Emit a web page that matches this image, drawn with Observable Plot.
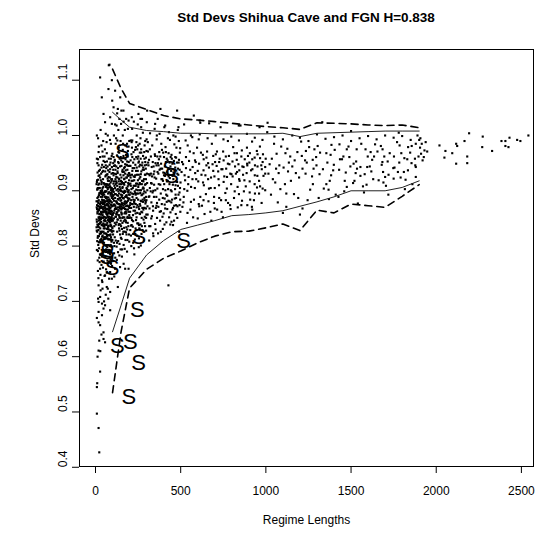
<!DOCTYPE html>
<html><head><meta charset="utf-8">
<script src="https://cdn.jsdelivr.net/npm/d3@7"></script>
<script src="https://cdn.jsdelivr.net/npm/@observablehq/plot@0.6"></script>
<style>
body{margin:0;background:#fff;font-family:"Liberation Sans",Arial,Helvetica,sans-serif;}
#wrap{position:relative;width:547px;height:533px;}
#title{position:absolute;left:79px;width:454px;top:10px;text-align:center;font-weight:bold;font-size:13.5px;color:#000;}
#chart{position:absolute;left:0;top:0;}
</style></head><body>
<div id="wrap"><div id="chart"></div><div id="title">Std Devs Shihua Cave and FGN H=0.838</div></div>
<script>
// ---- tick labels ----
const xTicks = [0, 500, 1000, 1500, 2000, 2500];
const yTicks = [0.4, 0.5, 0.6, 0.7, 0.8, 0.9, 1.0, 1.1];

// ---- band lines (regime length, std dev) ----
const bandLengths = [100,150,200,300,400,500,600,700,800,900,1000,1100,1200,1300,1400,1500,1600,1700,1800,1900];
const upperDashed = [1.12,1.085,1.058,1.047,1.036,1.03,1.028,1.025,1.022,1.019,1.016,1.014,1.011,1.023,1.022,1.021,1.019,1.018,1.019,1.014];
const upperSolid  = [1.042,1.028,1.015,1.009,1.007,1.004,1.004,1.003,1.003,1.003,1.003,1.004,0.998,1.004,1.005,1.006,1.007,1.008,1.008,1.008];
const lowerSolid  = [0.645,0.693,0.742,0.784,0.81,0.83,0.838,0.846,0.855,0.857,0.86,0.864,0.872,0.88,0.889,0.9,0.9,0.9,0.906,0.918];
const lowerDashed = [0.535,0.645,0.724,0.758,0.778,0.791,0.806,0.818,0.826,0.827,0.833,0.84,0.828,0.865,0.86,0.876,0.873,0.87,0.89,0.911];

// ---- Shihua Cave values (plotted as "S") ----
const shihua = [[157,.97],[435,.94],[447,.926],[254,.816],[517,.81],[66,.80],[70,.79],[66,.78],[98,.76],[246,.684],[128,.62],[205,.626],[253,.588],[195,.527]];

// ---- FGN simulated std devs ----
const fgnShort = [[12,.862],[25,.905],[38,.884],[51,.823],[63,.941],[77,.871],[89,.802],[95,.918],[8,.793],[19,.846],[33,.931],[44,.788],[57,.899],[69,.856],[82,.934],[97,.827],[15,.957],[28,.811],[41,.877],[53,.962],[66,.838],[74,.895],[86,.869],[93,.781],[10,.902],[22,.834],[35,.859],[47,.914],[60,.801],[71,.922],[84,.849],[99,.887],[14,.818],[27,.876],[39,.947],[50,.853],[62,.889],[75,.812],[88,.951],[92,.864],[6,.881],[18,.927],[31,.807],[43,.868],[55,.832],[68,.906],[80,.793],[91,.896],[11,.839],[24,.771],[36,.894],[49,.871],[61,.928],[73,.847],[85,.908],[98,.856],[16,.889],[29,.851],[42,.819],[54,.911],[65,.874],[78,.958],[90,.829],[96,.943],[9,.919],[21,.865],[34,.786],[46,.841],[58,.869],[70,.817],[83,.884],[94,.808],[13,.774],[26,.938],[37,.852],[48,.897],[59,.845],[72,.881],[87,.836],[99,.967],[7,.848],[20,.892],[32,.872],[45,.936],[56,.814],[67,.953],[79,.861],[89,.915],[17,.829],[30,.9],[40,.839],[52,.878],[64,.822],[76,.91],[81,.877],[95,.852],[12,.933],[23,.807],[36,.916],[47,.861],[58,.926],[69,.798],[82,.866],[93,.89],[10,.809],[24,.853],[38,.826],[51,.893],[63,.859],[74,.937],[86,.819],[97,.9],[15,.873],[27,.961],[41,.905],[54,.848],[66,.912],[78,.83],[90,.858],[99,.811],[8,.958],[19,.883],[33,.844],[44,.921],[57,.862],[70,.883],[84,.924],[92,.837],[14,.835],[28,.869],[39,.809],[53,.881],[61,.839],[75,.866],[88,.893],[96,.879],[11,.887],[22,.913],[35,.878],[48,.832],[62,.907],[73,.826],[85,.843],[94,.931],[16,.802],[29,.826],[43,.892],[55,.952],[67,.867],[79,.906],[91,.875],[98,.834],[9,.867],[21,.796],[34,.861],[46,.879],[59,.899],[71,.853],[83,.812],[96,.862],[13,.905],[26,.841],[40,.934],[52,.816],[65,.886],[77,.846],[89,.87],[97,.921],[18,.852],[31,.889],[42,.856],[56,.873],[68,.831],[80,.918],[92,.904],[7,.828],[20,.936],[32,.823],[45,.866],[60,.946],[72,.903],[87,.792],[95,.896],[17,.911],[30,.784],[41,.971],[50,.806],[64,.862],[76,.888],[88,.821],[99,.848],[23,.868],[37,.898],[49,.943],[61,.816],[74,.874],[86,.939],[93,.852],[6,.912],[25,.822],[38,.869],[53,.837],[66,.929],[79,.845],[90,.901],[98,.872],
[22,.779],[35,.766],[48,.772],[62,.758],[75,.769],[88,.776],[97,.764],[14,.755],[29,.748],[44,.761],[57,.781],[70,.774],[83,.787],[91,.768],[17,.742],[40,.735],[66,.752],[80,.741],[99,.779],[53,.746]];
const fgnShortB = [[9,.874],[16,.838],[23,.895],[31,.862],[39,.817],[46,.907],[54,.868],[61,.887],[69,.842],[76,.925],[84,.859],[91,.816],[98,.893],[12,.903],[19,.866],[27,.924],[34,.813],[42,.882],[49,.846],[57,.935],[64,.8],[72,.867],[79,.884],[87,.907],[94,.845],[7,.87],[14,.791],[21,.85],[29,.88],[36,.838],[44,.851],[51,.913],[59,.823],[66,.858],[74,.835],[81,.897],[89,.881],[96,.826],[10,.826],[18,.946],[25,.871],[33,.898],[40,.861],[48,.815],[55,.889],[63,.874],[70,.93],[78,.872],[85,.8],[93,.874],[100,.856],[13,.881],[20,.818],[28,.842],[35,.912],[43,.837],[50,.876],[58,.852],[65,.899],[73,.918],[80,.853],[88,.839],[95,.905],[8,.844],[15,.92],[22,.858],[30,.809],[37,.871],[45,.895],[52,.839],[60,.866],[67,.82],[75,.851],[82,.912],[90,.847],[97,.887],[11,.859],[17,.872],[24,.896],[32,.849],[39,.901],[47,.826],[54,.879],[62,.881],[69,.911],[77,.837],[84,.869],[92,.921],[99,.832],[6,.834],[14,.863],[21,.905],[28,.896],[36,.825],[43,.862],[50,.836],[57,.846],[65,.862],[72,.833],[79,.897],[86,.828],[93,.863],[13,.815],[25,.847],[37,.879],[49,.883],[61,.851],[73,.859],[85,.881],[97,.848],[19,.807],[31,.919],[43,.807],[55,.863],[67,.888],[79,.82],[91,.851],[8,.916],[20,.84],[32,.857],[44,.876],[56,.898],[68,.876],[80,.864],[92,.812],[16,.878],[28,.832],[40,.889],[52,.864],[64,.91],[76,.879],[88,.862],[100,.902],[11,.95],[23,.928],[35,.942],[47,.954],[59,.912],[71,.944],[83,.947],[95,.963],[18,.97],[42,.962],[66,.968],[90,.958],[26,.785],[50,.792],[74,.788],[98,.799],[38,.781],[62,.794],[86,.785]];
const fgnLow = [[8,.497],[18,.471],[22,.427],[8,.545],[10,.552],[27,.573],[18,.611],[28,.61],[22,.629],[47,.632],[56,.626],[47,.644],[18,.662],[38,.675],[27,.657],[8,.67],[18,.681],[47,.687],[86,.684],[18,.699],[38,.696],[56,.693],[27,.708],[41,.723],[66,.726],[18,.729],[38,.738],[56,.747],[86,.753],[27,.759],[72,.723],[86,.717],[96,.741],[60,.712],[30,.72],[12,.6],[35,.64],[15,.705],[50,.7],[75,.705],[115,.759],[144,.762],[174,.759],[131,.726],[194,.759],[105,.773],[125,.775],[155,.781],[185,.79],[165,.768],[140,.783],[110,.745],[428,.729]];
const fgnHigh = [[82,1.128],[27,1.105],[96,1.1],[76,1.084],[37,1.069],[106,1.051],[47,1.039],[86,1.033],[56,1.024],[96,1.021],[78,1.127],[98,1.063],[30,1.01],[60,1.003],[15,.995],[45,.99],[72,1.0],[90,.985],[20,.98],[55,.975],[85,.992],[8,1.0],[35,.982],[65,.988],
[108,1.0],[121,.995],[134,1.01],[147,.99],[160,1.0],[172,1.01],[185,.985],[198,.99],[115,1.02],[140,1.03],[165,1.025],[190,1.012],[127,1.04],[152,1.045],[180,1.03],[145,1.069],[131,1.048],[164,1.045],[194,1.027],[124,1.018],[150,1.021],[115,1.081],[213,1.033],[252,1.039],[264,1.03],[301,1.024]];
const fgnMid1 = [[104,.873],[117,.921],[129,.848],[141,.887],[153,.813],[166,.934],[178,.862],[191,.899],[108,.806],[121,.868],[133,.952],[146,.839],[158,.905],[171,.826],[183,.947],[196,.871],[111,.931],[124,.799],[136,.884],[149,.918],[161,.852],[174,.889],[187,.811],[199,.931],[102,.846],[114,.894],[127,.826],[139,.969],[151,.861],[164,.877],[176,.957],[189,.842],[106,.961],[119,.839],[131,.903],[144,.821],[156,.876],[169,.911],[181,.834],[194,.884],[109,.882],[122,.944],[134,.865],[147,.794],[159,.938],[172,.848],[185,.903],[197,.821],[113,.816],[126,.878],[138,.832],[150,.912],[163,.826],[175,.881],[188,.929],[115,.905],[128,.861],[140,.912],[152,.945],[165,.802],[177,.916],[190,.866],[103,.821],[118,.985],[132,.789],[145,.868],[157,.892],[170,.859],[182,.821],[195,.952],[107,.898],[120,.853],[135,.917],[148,.846],[160,.974],[173,.898],[186,.873],[198,.808],[110,.836],[123,.901],[137,.856],[151,.883],[162,.913],[179,.843],[192,.914],[105,.913],[116,.779],[130,.932],[142,.907],[155,.831],[167,.869],[180,.891],[193,.836],[112,.953],[125,.843],[143,.851],[154,.859],[168,.941],[184,.924],[197,.893],[101,.858],[119,.894],[133,.809],[146,.929],[158,.869],[171,.88],[187,.851],[199,.869],[109,.787],[124,.914],[139,.876],[150,.836],[163,.959],[176,.811],[190,.972],[104,.938],[128,.991],[141,.828],[153,.899],[166,.845],[181,.866],[194,.911],[114,.867],[136,.864],[148,.961],[160,.822],[174,.931],[189,.887]];
const fgnMid1B = [[103,.885],[110,.864],[118,.912],[125,.857],[133,.891],[140,.853],[148,.875],[155,.916],[163,.873],[170,.9],[178,.846],[185,.873],[193,.862],[106,.928],[113,.842],[121,.881],[128,.924],[136,.838],[143,.901],[151,.866],[158,.842],[166,.886],[173,.867],[181,.924],[188,.853],[196,.932],[101,.9],[108,.85],[116,.873],[123,.867],[131,.848],[138,.895],[146,.903],[153,.857],[161,.887],[168,.833],[176,.872],[183,.892],[191,.882],[198,.856],[105,.827],[112,.875],[120,.93],[127,.892],[135,.876],[142,.869],[150,.893],[157,.851],[165,.914],[172,.876],[180,.859],[187,.938],[195,.872],[102,.89],[109,.917],[117,.853],[124,.88],[132,.87],[139,.84],[147,.882],[154,.878],[162,.898],[169,.852],[177,.899],[184,.88],[192,.897],[199,.886],[107,.875],[122,.858],[137,.922],[152,.924],[167,.896],[182,.905],[197,.851],[114,.946],[129,.935],[144,.944],[159,.952],[174,.948],[189,.962],[104,.95],[134,.97],[164,.963],[194,.98],[119,.81],[149,.815],[179,.825],[111,.8],[141,.804],[171,.795],[126,.806],[156,.794],[186,.83]];
const fgnMid1C = [[102,.932],[115,.887],[127,.909],[139,.921],[152,.872],[164,.928],[177,.937],[189,.908],[107,.86],[120,.917],[132,.941],[145,.887],[157,.935],[170,.922],[182,.889],[195,.901],[111,.909],[124,.861],[136,.95],[149,.9],[161,.934],[174,.861],[186,.953],[199,.912],[104,.903],[117,.938],[129,.877],[142,.958],[154,.889],[167,.913],[179,.965],[192,.927],[109,.945],[122,.925],[134,.899],[147,.917],[159,.907],[172,.943],[184,.946],[197,.919],[113,.956],[137,.978],[162,.985],[186,.965],[126,.964],[151,.955],[175,.982],[199,.945],[118,.87],[143,.872],[168,.921],[193,.945],[106,.892],[131,.885],[156,.868],[181,.878]];
const fgnMid2 = [[203,.862],[211,.903],[219,.835],[227,.941],[236,.876],[244,.819],[252,.911],[261,.858],[269,.935],[277,.884],[286,.826],[294,.897],[206,.924],[214,.847],[222,.884],[231,.812],[239,.902],[247,.958],[256,.867],[264,.839],[272,.912],[281,.866],[289,.946],[297,.851],[208,.819],[216,.961],[225,.871],[233,.928],[241,.852],[250,.884],[258,.922],[266,.801],[275,.869],[283,.904],[291,.836],[299,.972],[201,.893],[210,.851],[218,.918],[226,.796],[235,.859],[243,.895],[251,.841],[260,.969],[268,.881],[276,.829],[285,.921],[293,.877],[205,.945],[213,.876],[221,.806],[230,.899],[238,.936],[246,.874],[255,.953],[263,.896],[271,.851],[280,.942],[288,.869],[296,.921],[209,.837],[217,.889],[224,.926],[232,.864],[240,.829],[249,.919],[257,.832],[265,.958],[274,.893],[282,.848],[290,.911],[298,.857],[204,.878],[212,.988],[220,.856],[229,.909],[237,.979],[245,.841],[253,.871],[262,.912],[270,.822],[279,.963],[287,.887],[295,.94],[207,.991],[223,.97],[242,1.0],[259,.985],[278,1.005],[292,.99],[215,1.012],[248,1.02],[273,1.03],[228,.785],[254,.798],[284,.81],[234,.822]];
const fgnMid2B = [[202,.874],[209,.883],[216,.936],[223,.864],[230,.883],[238,.913],[245,.86],[252,.895],[260,.876],[267,.901],[274,.861],[281,.917],[289,.883],[296,.868],[205,.897],[212,.838],[219,.905],[226,.88],[234,.947],[241,.87],[248,.901],[255,.838],[263,.925],[270,.892],[277,.938],[284,.869],[292,.952],[299,.883],[207,.909],[214,.929],[221,.845],[229,.877],[236,.893],[243,.929],[251,.907],[258,.859],[265,.882],[273,.918],[280,.906],[287,.842],[295,.912],[201,.852],[218,.876],[235,.832],[252,.951],[269,.862],[286,.899],[211,.966],[228,.957],[245,.975],[262,.947],[279,.88],[296,.96],[204,.829],[221,.822],[238,.847],[255,.814],[272,.836],[289,.853],[216,.991],[240,.988],[264,.995],[288,.982],[225,1.025],[268,1.015],[210,.8],[260,.83],[297,.828]];
const fgnMid2C = [[203,.928],[212,.918],[221,.951],[230,.925],[239,.961],[248,.936],[257,.944],[266,.93],[275,.951],[284,.938],[293,.929],[206,.955],[215,.895],[224,.909],[233,.896],[242,.942],[251,.962],[260,.914],[269,.969],[278,.918],[287,.958],[296,.889],[209,.869],[218,.941],[227,.919],[236,.909],[245,.913],[254,.929],[263,.873],[272,.946],[281,.895],[290,.929],[299,.947],[214,.978],[232,.974],[250,.982],[268,.975],[286,.97],[205,.913],[223,.894],[241,.887],[259,.901],[277,.904],[295,.88]];
const fgnMid3 = [[305,.872],[318,.928],[331,.854],[344,.911],[357,.889],[370,.946],[383,.826],[396,.903],[409,.868],[422,.934],[435,.881],[448,.958],[461,.846],[474,.917],[487,.893],[498,.862],[309,.951],[322,.836],[335,.897],[348,.966],[361,.851],[374,.884],[387,.921],[400,.859],[413,.952],[426,.903],[439,.839],[452,.927],[465,.886],[478,.951],[491,.826],[312,.889],[325,.962],[338,.823],[351,.901],[364,.934],[377,.862],[390,.974],[403,.912],[416,.843],[429,.968],[442,.901],[455,.869],[468,.961],[481,.872],[494,.938],[315,.81],[328,.879],[341,.944],[354,.869],[367,.823],[380,.911],[393,.853],[406,.886],[419,.917],[432,.852],[445,.879],[458,.933],[471,.858],[484,.909],[497,.977],[302,.931],[326,.914],[350,.84],[372,.957],[398,.933],[421,.891],[446,.844],[470,.893],[493,.874],[307,.988],[333,.982],[359,.993],[386,.985],[411,.979],[437,.992],[463,.984],[489,.99],[320,1.004],[347,1.012],[376,1.003],[404,1.015],[431,1.006],[457,1.0],[483,1.01],[303,1.045],[381,1.048],[479,1.045],[365,1.03],[409,1.018],[487,1.015],[350,1.021],[340,.818],[395,.831],[455,.838],[315,.836]];
const fgnMid3B = [[304,.901],[317,.868],[330,.943],[343,.889],[356,.922],[369,.871],[382,.94],[395,.887],[408,.927],[421,.867],[434,.912],[447,.899],[460,.954],[473,.874],[486,.929],[499,.915],[311,.946],[324,.899],[337,.872],[350,.963],[363,.904],[376,.938],[389,.876],[402,.961],[415,.893],[428,.94],[441,.961],[454,.911],[467,.903],[480,.931],[493,.897],[306,.857],[332,.926],[358,.873],[384,.863],[410,.901],[436,.923],[462,.873],[488,.951],[319,.975],[345,.935],[371,.912],[397,.969],[423,.955],[449,.884],[475,.978],[313,.93],[339,.9],[366,.95],[392,.921],[418,.88],[444,.936],[470,.91],[496,.905],[327,.85],[353,.83],[379,.846],[405,.839],[440,.861],[480,.851],[300,.993],[360,1.0],[425,.995],[470,.998]];
const fgnMid3C = [[303,.914],[314,.956],[325,.931],[336,.952],[347,.924],[358,.946],[369,.931],[380,.962],[391,.94],[402,.928],[413,.97],[424,.918],[435,.951],[446,.965],[457,.921],[468,.942],[479,.916],[490,.956],[308,.971],[319,.905],[330,.913],[341,.93],[352,.95],[363,.962],[374,.97],[385,.949],[396,.918],[407,.944],[418,.958],[429,.926],[440,.944],[451,.949],[462,.93],[473,.96],[484,.94],[495,.969],[316,.89],[338,.864],[361,.878],[383,.895],[406,.875],[428,.882],[451,.866],[473,.887],[497,.884]];
const fgnMid4 = [[505,.934],[518,.889],[531,.961],[544,.912],[557,.866],[570,.943],[583,.905],[596,.978],[609,.872],[622,.929],[635,.957],[648,.894],[661,.921],[674,.862],[687,.948],[700,.905],[713,.971],[726,.887],[739,.939],[752,.916],[765,.962],[778,.878],[791,.931],[804,.953],[817,.899],[830,.968],[843,.921],[856,.874],[869,.943],[882,.908],[895,.963],[908,.884],[921,.939],[934,.912],[947,.972],[960,.895],[973,.946],[986,.927],[999,.958],[510,.871],[526,.919],[541,.982],[556,.938],[573,.852],[588,.952],[603,.917],[619,.969],[634,.883],[651,.946],[666,.904],[683,.985],[698,.926],[714,.866],[729,.958],[745,.939],[762,.896],[777,.949],[793,.867],[808,.979],[824,.931],[839,.948],[856,.962],[871,.899],[887,.932],[903,.951],[918,.871],[934,.96],[950,.927],[965,.98],[981,.904],[996,.931],[514,.948],[537,.842],[561,.907],[585,.932],[608,.949],[631,.915],[655,.971],[678,.924],[702,.952],[725,.91],[749,.971],[772,.925],[796,.912],[819,.944],[842,.894],[866,.929],[889,.978],[913,.937],[936,.946],[960,.918],[983,.966],[521,.903],[549,.954],[578,.884],[606,.993],[634,.937],[663,.881],[691,.963],[720,.935],[748,.852],[777,.99],[805,.926],[834,.907],[862,.944],[891,.874],[919,.989],[948,.906],[976,.939],[529,.991],[568,.997],[612,1.002],[658,.995],[705,1.0],[751,.993],[797,.998],[842,.991],[889,1.003],[935,.996],[980,.992],[577,1.036],[612,1.027],[667,1.022],[734,1.015],[841,1.018],[963,1.015],[560,1.0],[520,1.02],[615,1.023],[851,1.018],[640,.858],[700,.868],[790,.874],[860,.882],[930,.883],[540,.86],[600,.85],[680,.846],[740,.862],[920,.866]];
const fgnMid4B = [[508,.952],[523,.928],[539,.9],[554,.971],[569,.921],[584,.955],[600,.936],[615,.889],[630,.965],[645,.928],[661,.95],[676,.905],[691,.936],[706,.966],[722,.921],[737,.883],[752,.955],[767,.94],[783,.963],[798,.93],[813,.887],[829,.956],[844,.937],[859,.973],[874,.919],[890,.949],[905,.917],[920,.957],[935,.928],[951,.944],[966,.908],[981,.952],[996,.943],[516,.879],[546,.925],[576,.968],[606,.876],[636,.91],[666,.942],[696,.889],[726,.952],[756,.926],[786,.948],[816,.968],[846,.918],[876,.957],[906,.968],[936,.895],[966,.959],[996,.901],[531,.941],[591,.921],[651,.96],[711,.945],[771,.904],[831,.934],[891,.946],[951,.966],[560,.88],[625,.873],[695,.878],[765,.883],[835,.87],[905,.897],[975,.878]];
const fgnLong = [[1008,1.006],[1022,.948],[1041,.921],[1063,.967],[1085,.903],[1104,.942],[1126,.976],[1147,.918],[1169,.955],[1190,.887],[1211,.963],[1233,.931],[1254,.979],[1276,.912],[1297,.946],[1318,.969],[1340,.904],[1361,.951],[1383,.928],[1404,.974],[1426,.889],[1447,.957],[1469,.933],[1490,.961],[1512,.914],[1533,.975],[1555,.943],[1576,.897],[1598,.962],[1619,.935],[1641,.984],[1662,.919],[1684,.952],[1705,.909],[1727,.968],[1748,.941],[1770,.988],[1791,.924],[1813,.959],[1834,.937],[1856,.981],[1877,.946],[1896,.962],[1015,.931],[1048,.985],[1079,.946],[1112,.912],[1143,.962],[1176,.932],[1207,.989],[1240,.951],[1271,.926],[1304,.981],[1335,.939],[1368,.902],[1399,.947],[1432,.984],[1463,.918],[1496,.944],[1527,.932],[1560,.985],[1591,.911],[1624,.956],[1655,.971],[1688,.934],[1719,.893],[1752,.962],[1783,.951],[1816,.903],[1847,.969],[1880,.925],[1030,.893],[1070,.879],[1120,.871],[1165,.894],[1215,.868],[1260,.902],[1310,.887],[1355,.912],[1410,.893],[1460,.899],[1520,.918],[1570,.908],[1630,.921],[1690,.915],[1750,.922],[1810,.934],[1860,.912],[1050,.998],[1100,.993],[1155,1.0],[1200,.996],[1250,.99],[1300,1.002],[1350,.994],[1400,.997],[1450,1.0],[1500,.99],[1550,.995],[1600,.999],[1650,.993],[1700,1.0],[1750,.996],[1800,.999],[1850,.992],[1890,1.0],[1010,1.023],[1331,1.024],[1500,1.008],[1780,1.005],[1230,.955],[1380,.965],[1530,.953],[1680,.947],[1830,.957],[1060,.94],[1130,.935],[1280,.94],[1430,.938],[1610,.944],[1720,.929],[1880,.943],[1540,.877],[1200,.857],[1100,.86]];
const fgnLongB = [[1035,.958],[1075,.932],[1115,.968],[1155,.944],[1195,.924],[1235,.972],[1275,.956],[1315,.93],[1355,.968],[1395,.937],[1435,.957],[1475,.975],[1515,.949],[1555,.927],[1595,.943],[1635,.962],[1675,.981],[1715,.953],[1755,.942],[1795,.968],[1835,.979],[1875,.958],[1055,.915],[1135,.951],[1215,.94],[1295,.961],[1375,.918],[1455,.962],[1535,.94],[1615,.97],[1695,.962],[1775,.934],[1855,.95],[1090,.98],[1185,.97],[1285,.975],[1385,.983],[1485,.98],[1585,.975],[1685,.975],[1785,.982],[1880,.985],[1120,.895],[1245,.883],[1370,.885],[1475,.907],[1580,.93],[1700,.925],[1820,.92]];
const fgnTail = [[1907,.995],[1900,.992],[1911,.967],[1931,.973],[1947,.971],[1927,.961],[2019,.982],[2054,.972],[2048,.96],[2094,.968],[2117,.985],[2123,.981],[2117,.949],[2166,.99],[2182,.962],[2182,.95],[2193,1.004],[2273,.998],[2270,.979],[2328,.972],[2383,.99],[2406,.99],[2430,.996],[2406,.981],[2424,.979],[2475,.992],[2494,.99],[2541,1.0],[1915,.985],[1905,.978],[1920,.955],[1938,.988]];

// ---- build tables ----
const fgn = [...fgnShort, ...fgnShortB, ...fgnLow, ...fgnHigh, ...fgnMid1, ...fgnMid1B, ...fgnMid1C, ...fgnMid2, ...fgnMid2B, ...fgnMid2C,
  ...fgnMid3, ...fgnMid3B, ...fgnMid3C, ...fgnMid4, ...fgnMid4B, ...fgnLong, ...fgnLongB, ...fgnTail]
  .map(([len, sd]) => ({len, sd}));
const bands = [
  {vals: upperDashed, dash: true}, {vals: lowerDashed, dash: true},
  {vals: upperSolid, dash: false}, {vals: lowerSolid, dash: false}
].map((b, i) => bandLengths.map((len, j) => ({len, sd: b.vals[j], id: i, dash: b.dash}))).flat();
const solid = bands.filter(d => !d.dash), dashed = bands.filter(d => d.dash);
const sPts = shihua.map(([len, sd]) => ({len, sd}));

const font = '"Liberation Sans", Arial, Helvetica, sans-serif';
const chart = Plot.plot({
  width: 547, height: 533,
  marginLeft: 79, marginRight: 14, marginTop: 49, marginBottom: 67,
  style: {fontFamily: font, fontSize: "12px", color: "black", background: "white"},
  x: {domain: [-94, 2571]},
  y: {domain: [0.4014, 1.1555]},
  marks: [
    Plot.dot(fgn, {x: "len", y: "sd", symbol: "square", r: 1.2, fill: "black", stroke: null}),
    Plot.line(solid, {x: "len", y: "sd", z: "id", stroke: "#222", strokeWidth: 1}),
    Plot.line(dashed, {x: "len", y: "sd", z: "id", stroke: "black", strokeWidth: 1.6, strokeDasharray: "7,5"}),
    Plot.text(sPts, {x: "len", y: "sd", text: () => "S", fontSize: 22, fill: "black"}),
    Plot.frame({stroke: "black", strokeWidth: 1}),
    Plot.axisX({ticks: xTicks, tickSize: 7, tickPadding: 13, fontSize: 12, label: null, tickFormat: d => String(d)}),
    Plot.axisY({ticks: yTicks, tickSize: 7, tickFormat: () => "", label: null}),
    Plot.text(yTicks, {y: d => d, frameAnchor: "left", dx: -16, rotate: -90, text: d => d.toFixed(1), fontSize: 12}),
    Plot.text(["Std Devs"], {frameAnchor: "left", dx: -44, rotate: -90, text: d => d, fontSize: 12}),
    Plot.text(["Regime Lengths"], {frameAnchor: "bottom", dy: 57, text: d => d, fontSize: 12})
  ]
});
document.getElementById("chart").appendChild(chart);
</script>
</body></html>
